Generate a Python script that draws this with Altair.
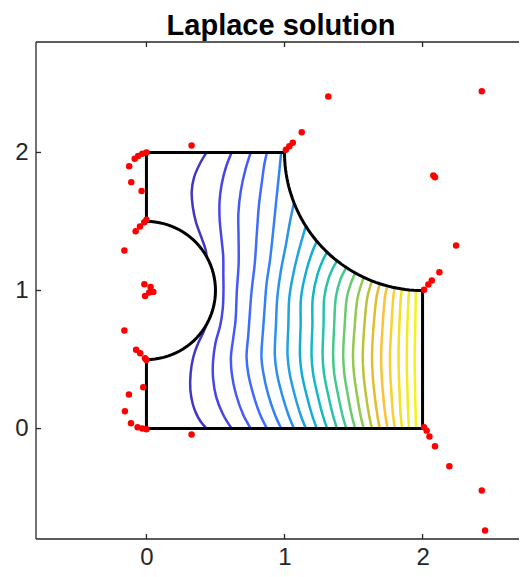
import altair as alt
import pandas as pd

# ---------------- data ----------------
TITLE = "Laplace solution"
AXIS_DOMAIN = [-0.8, 2.8]
TICKS = [0, 1, 2]

# contour levels (20 equally spaced levels between 0 and 4)
LEVELS = [0.1905, 0.3810, 0.5714, 0.7619, 0.9524, 1.1429, 1.3333, 1.5238, 1.7143, 1.9048,
          2.0952, 2.2857, 2.4762, 2.6667, 2.8571, 3.0476, 3.2381, 3.4286, 3.6190, 3.8095]

# parula colour map stops (value -> colour), colour range 0..4
PARULA_STOPS = [0.0, 0.2, 0.4, 0.6, 0.8, 1.0, 1.2, 1.4, 1.6, 1.8, 2.0,
                2.2, 2.4, 2.6, 2.8, 3.0, 3.2, 3.4, 3.6, 3.8, 4.0]
PARULA_COLORS = ["#3e26a8", "#4237c9", "#4747eb", "#455cfa", "#3e6fff", "#3085f5",
                 "#2796eb", "#1ca6de", "#0cb2d2", "#17bfba", "#31c69f", "#55ca7f",
                 "#81cc59", "#adc53c", "#d9be26", "#fcbc3c", "#fbcd31", "#f5dc28",
                 "#f3e924", "#f5f31c", "#f9fb14"]

# contour lines, (x, y) points from bottom to top
C01_LOWER = [(0.436, 0.0), (0.39, 0.055), (0.36, 0.11), (0.335, 0.18), (0.318, 0.28), (0.32, 0.40),
             (0.34, 0.52), (0.375, 0.62), (0.41, 0.69), (0.436, 0.755)]
C01_UPPER = [(0.436, 1.245), (0.43, 1.29), (0.40, 1.38), (0.36, 1.49), (0.335, 1.61), (0.328, 1.72),
             (0.345, 1.82), (0.388, 1.92), (0.436, 2.0)]
C02 = [(0.617, 0.0), (0.556, 0.1), (0.505, 0.23), (0.483, 0.36), (0.482, 0.48), (0.50, 0.62),
       (0.535, 0.75), (0.553, 0.87), (0.558, 1.0), (0.557, 1.12), (0.556, 1.25), (0.542, 1.39),
       (0.53, 1.52), (0.53, 1.65), (0.545, 1.77), (0.578, 1.9), (0.617, 2.0)]
C03 = [(0.756, 0.0), (0.701, 0.1), (0.648, 0.25), (0.618, 0.4), (0.612, 0.52), (0.628, 0.65),
       (0.645, 0.78), (0.655, 1.0), (0.668, 1.2), (0.667, 1.4), (0.666, 1.56), (0.683, 1.72),
       (0.718, 1.88), (0.756, 2.0)]
C04 = [(0.873, 0.0), (0.824, 0.1), (0.773, 0.25), (0.737, 0.4), (0.725, 0.52), (0.738, 0.68),
       (0.75, 0.85), (0.762, 1.0), (0.785, 1.2), (0.8, 1.42), (0.815, 1.62), (0.838, 1.8),
       (0.855, 1.92), (0.873, 2.0)]
C05 = [(0.976, 0.0), (0.931, 0.1), (0.881, 0.25), (0.847, 0.4), (0.833, 0.52), (0.845, 0.72),
       (0.858, 0.9), (0.87, 1.05), (0.895, 1.22), (0.918, 1.43), (0.94, 1.65), (0.96, 1.84),
       (0.976, 2.0)]
C06 = [(1.069, 0.0), (1.028, 0.1), (0.981, 0.25), (0.945, 0.4), (0.93, 0.53), (0.938, 0.75),
       (0.948, 0.95), (0.975, 1.15), (1.01, 1.33), (1.04, 1.5), (1.069, 1.635)]
C07 = [(1.155, 0.0), (1.116, 0.1), (1.072, 0.25), (1.037, 0.4), (1.022, 0.53), (1.028, 0.75),
       (1.035, 0.95), (1.07, 1.15), (1.115, 1.33), (1.155, 1.466)]
C08 = [(1.234, 0.0), (1.199, 0.1), (1.158, 0.25), (1.125, 0.4), (1.112, 0.53), (1.117, 0.75),
       (1.12, 0.95), (1.16, 1.15), (1.205, 1.29), (1.234, 1.357)]
C09 = [(1.309, 0.0), (1.276, 0.1), (1.238, 0.25), (1.207, 0.4), (1.196, 0.53), (1.202, 0.75),
       (1.205, 0.95), (1.24, 1.12), (1.28, 1.225), (1.309, 1.277)]
C10 = [(1.380, 0.0), (1.350, 0.1), (1.315, 0.25), (1.286, 0.4), (1.276, 0.53), (1.283, 0.75),
       (1.288, 0.95), (1.32, 1.09), (1.355, 1.17), (1.380, 1.215)]
C11 = [(1.4475, 0.0), (1.419, 0.1), (1.387, 0.25), (1.36, 0.4), (1.352, 0.53), (1.36, 0.75),
       (1.372, 0.95), (1.405, 1.08), (1.4475, 1.1665)]
C12 = [(1.512, 0.0), (1.486, 0.1), (1.457, 0.25), (1.433, 0.4), (1.425, 0.53), (1.436, 0.75),
       (1.452, 0.95), (1.48, 1.05), (1.512, 1.127)]
C13 = [(1.5736, 0.0), (1.55, 0.1), (1.524, 0.25), (1.503, 0.4), (1.496, 0.53), (1.509, 0.75),
       (1.53, 0.95), (1.5736, 1.0955)]
C14 = [(1.633, 0.0), (1.612, 0.1), (1.589, 0.25), (1.572, 0.4), (1.567, 0.53), (1.579, 0.75),
       (1.6, 0.95), (1.633, 1.07)]
C15 = [(1.690, 0.0), (1.672, 0.1), (1.652, 0.25), (1.638, 0.4), (1.634, 0.53), (1.646, 0.75),
       (1.668, 0.96), (1.690, 1.049)]
C16 = [(1.7457, 0.0), (1.73, 0.1), (1.714, 0.25), (1.703, 0.4), (1.7, 0.53), (1.711, 0.75),
       (1.73, 0.97), (1.7457, 1.033)]
C17 = [(1.7995, 0.0), (1.786, 0.1), (1.775, 0.25), (1.766, 0.4), (1.764, 0.53), (1.775, 0.75),
       (1.79, 0.97), (1.7995, 1.0203)]
C18 = [(1.8516, 0.0), (1.841, 0.1), (1.834, 0.25), (1.828, 0.4), (1.826, 0.53), (1.832, 0.75),
       (1.845, 0.97), (1.8516, 1.0111)]
C19 = [(1.9024, 0.0), (1.896, 0.1), (1.891, 0.25), (1.887, 0.4), (1.886, 0.53), (1.89, 0.75),
       (1.90, 0.97), (1.9024, 1.0048)]
C20 = [(1.9518, 0.0), (1.950, 0.1), (1.946, 0.25), (1.944, 0.4), (1.943, 0.53), (1.947, 0.75),
       (1.951, 0.97), (1.9518, 1.0012)]

PIECES = [(0, C01_LOWER), (0, C01_UPPER), (1, C02), (2, C03), (3, C04), (4, C05), (5, C06),
          (6, C07), (7, C08), (8, C09), (9, C10), (10, C11), (11, C12), (12, C13), (13, C14),
          (14, C15), (15, C16), (16, C17), (17, C18), (18, C19), (19, C20)]

# boundary: straight parts and circular arcs (cx, cy, r, start deg, end deg)
SIDE_A = [(0.0, 0.5), (0.0, 0.0), (2.0, 0.0), (2.0, 1.0)]
SIDE_B = [(1.0, 2.0), (0.0, 2.0), (0.0, 1.5)]
ARCS = [(2.0, 2.0, 1.0, -90.0, -180.0), (0.0, 1.0, 0.5, 90.0, -90.0)]

# poles (red dots)
POLE_X = [0.0, -0.03, -0.06, -0.085, -0.125, -0.11, -0.035,
          0.0, -0.016, -0.047, -0.078, -0.16,
          -0.015, 0.03, 0.05, 0.02, -0.01,
          -0.16, -0.075, -0.045, -0.01, 0.0,
          -0.023, -0.127, -0.156, -0.112, -0.064, -0.03, 0.0,
          0.327, 0.327,
          1.01, 1.035, 1.06, 1.125, 1.317,
          2.429, 2.078, 2.09, 2.243, 2.122, 2.067, 2.042, 2.011,
          2.011, 2.03, 2.05, 2.09, 2.194, 2.429, 2.453]
POLE_Y = [2.0, 1.99, 1.975, 1.955, 1.9, 1.785, 1.72,
          1.512, 1.495, 1.464, 1.43, 1.29,
          1.045, 1.025, 0.99, 0.985, 0.96,
          0.71, 0.57, 0.545, 0.51, 0.497,
          0.30, 0.246, 0.126, 0.039, 0.01, 0.0, -0.005,
          2.05, -0.043,
          2.02, 2.045, 2.07, 2.147, 2.406,
          2.444, 1.833, 1.821, 1.326, 1.133, 1.072, 1.043, 1.005,
          0.01, -0.015, -0.058, -0.128, -0.273, -0.449, -0.739]

# ---------------- chart ----------------
PLOT = 497          # full plot-area size in pixels (square axes)
VIEW_W = 483        # visible part of the view (the right edge falls outside the page)
FONT = "Liberation Sans"
AXCOL = "#262626"

contour_rows = []
for pid, (k, pts) in enumerate(PIECES):
    for i, (px, py) in enumerate(pts):
        contour_rows.append({"piece": pid, "level": LEVELS[k], "i": i, "x": px, "y": py})
contour_df = pd.DataFrame(contour_rows)

sideA_df = pd.DataFrame({"i": list(range(len(SIDE_A))), "x": [p[0] for p in SIDE_A], "y": [p[1] for p in SIDE_A]})
sideB_df = pd.DataFrame({"i": list(range(len(SIDE_B))), "x": [p[0] for p in SIDE_B], "y": [p[1] for p in SIDE_B]})
poles_df = pd.DataFrame({"x": POLE_X, "y": POLE_Y})
ticks_df = pd.DataFrame({"t": TICKS})
title_df = pd.DataFrame({"label": [TITLE]})

XS = alt.Scale(domain=AXIS_DOMAIN, range=[0, PLOT], nice=False, zero=False)
YS = alt.Scale(domain=AXIS_DOMAIN, nice=False, zero=False)
XA = alt.Axis(values=TICKS, ticks=False, domain=False, grid=False, labelFont=FONT,
              labelFontSize=24, labelColor=AXCOL, labelPadding=6, title=None, format="d")
YA = alt.Axis(values=TICKS, ticks=False, domain=False, grid=False, labelFont=FONT,
              labelFontSize=24, labelColor=AXCOL, labelPadding=8, title=None, format="d")


def X(f="x"):
    return alt.X(f"{f}:Q", scale=XS, axis=XA)


def Y(f="y"):
    return alt.Y(f"{f}:Q", scale=YS, axis=YA)


contours = alt.Chart(contour_df).mark_line(strokeWidth=2.5, interpolate="catmull-rom").encode(
    x=X(), y=Y(),
    color=alt.Color("level:Q", scale=alt.Scale(domain=PARULA_STOPS, range=PARULA_COLORS,
                                               interpolate="rgb"), legend=None),
    detail="piece:N",
    order="i:Q",
)

bstyle = dict(color="black", strokeWidth=3, strokeCap="square", strokeJoin="miter")
sideA = alt.Chart(sideA_df).mark_line(**bstyle).encode(x=X(), y=Y(), order="i:Q")
sideB = alt.Chart(sideB_df).mark_line(**bstyle).encode(x=X(), y=Y(), order="i:Q")

arc_layers = []
for cx, cy, r, a0, a1 in ARCS:
    arc = (
        alt.Chart(alt.sequence(0, 1.0001, 0.02, as_="t"))
        .transform_calculate(a=f"({a0} + ({a1} - ({a0})) * datum.t) * PI / 180")
        .transform_calculate(x=f"{cx} + {r} * cos(datum.a)", y=f"{cy} + {r} * sin(datum.a)")
        .mark_line(**bstyle)
        .encode(x=X(), y=Y(), order="t:Q")
    )
    arc_layers.append(arc)

# axes box (left, top, bottom) and inward ticks
fr = dict(color=AXCOL, strokeWidth=1.3)
box_left = alt.Chart().mark_rule(**fr).encode(x=alt.value(0), y=alt.value(0), y2=alt.value(PLOT))
box_top = alt.Chart().mark_rule(**fr).encode(y=alt.value(0), x=alt.value(0), x2=alt.value(PLOT))
box_bottom = alt.Chart().mark_rule(**fr).encode(y=alt.value(PLOT), x=alt.value(0), x2=alt.value(PLOT))

tk = dict(color=AXCOL, strokeWidth=1.3)
tick_bottom = alt.Chart(ticks_df).mark_rule(**tk).encode(x=X("t"), y=alt.value(PLOT), y2=alt.value(PLOT - 5))
tick_top = alt.Chart(ticks_df).mark_rule(**tk).encode(x=X("t"), y=alt.value(0), y2=alt.value(5))
tick_left = alt.Chart(ticks_df).mark_rule(**tk).encode(y=Y("t"), x=alt.value(0), x2=alt.value(5))

poles = alt.Chart(poles_df).mark_circle(size=42, color="#ff0000", opacity=1).encode(x=X(), y=Y())

title = alt.Chart(title_df).mark_text(
    font=FONT, fontSize=29, fontWeight="bold", color="black", align="center", baseline="alphabetic"
).encode(text="label:N", x=alt.value(245), y=alt.value(-7.5))

chart = (
    alt.layer(contours, sideA, sideB, *arc_layers, box_left, box_top, box_bottom,
              tick_bottom, tick_top, tick_left, poles, title)
    .properties(
        width=VIEW_W,
        height=PLOT,
        padding={"left": 28, "top": 34, "right": 0, "bottom": 30},
        autosize=alt.AutoSizeParams(type="none"),
    )
    .configure_view(stroke=None)
)

chart.save("out.html", embed_options={"renderer": "svg", "actions": False})
